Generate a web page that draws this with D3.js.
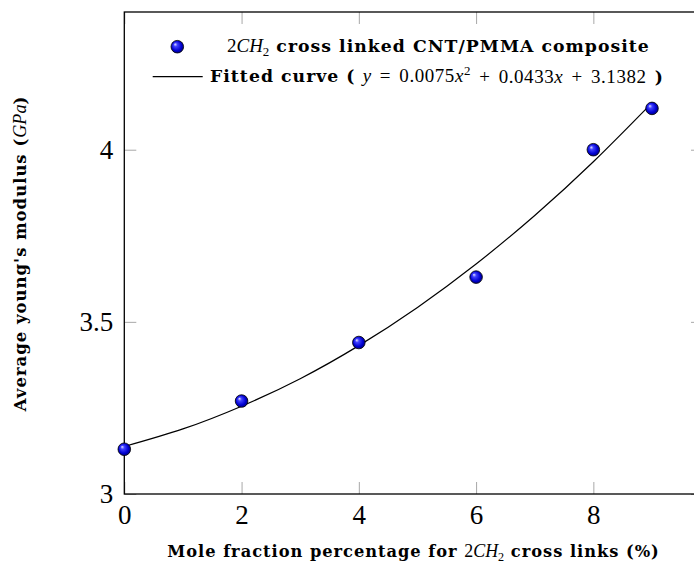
<!DOCTYPE html>
<html lang="en">
<head>
    <meta charset="UTF-8">
    <title>Young's modulus vs cross links</title>
    <script src="https://d3js.org/d3.v7.min.js"></script>
    <style>
        body { margin: 0; background: #fff; }
        svg { display: block; }
    </style>
</head>
<body>
    <svg id="chart" width="694" height="563"></svg>
    <script>
        // data
        const molePct = [0, 2, 4, 6, 8, 9];
        const modulus = [3.13, 3.27, 3.44, 3.63, 4.00, 4.12];
        // fitted curve, read at whole x values
        const fitX = [0, 1, 2, 3, 4, 5, 6, 7, 8, 9];
        const fitY = [3.138, 3.189, 3.255, 3.335, 3.431, 3.542, 3.668, 3.809, 3.965, 4.136];
        const xTicks = [0, 2, 4, 6, 8];
        const yTicks = [3, 3.5, 4];
        const yTickLabels = ["3", "3.5", "4"];
        const xLimits = [0, 9.87];
        const yLimits = [3, 4.4];

        const svg = d3.select("#chart");
        const mLeft = 124.3, mRight = 703, mTop = 12, mBottom = 494;

        const x = d3.scaleLinear().domain(xLimits).range([mLeft, mRight]);
        const y = d3.scaleLinear().domain(yLimits).range([mBottom, mTop]);

        const bold = "'DejaVu Serif', serif";
        const math = "'Liberation Serif', serif";

        // ball shading for the markers
        const grad = svg.append("defs").append("radialGradient")
            .attr("id", "ball")
            .attr("cx", "0.5").attr("cy", "0.5").attr("r", "0.6")
            .attr("fx", "0.32").attr("fy", "0.3");
        grad.append("stop").attr("offset", "0").attr("stop-color", "#e6e6ff");
        grad.append("stop").attr("offset", "0.25").attr("stop-color", "#4040ff");
        grad.append("stop").attr("offset", "0.65").attr("stop-color", "#0000d0");
        grad.append("stop").attr("offset", "1").attr("stop-color", "#00005a");

        // ticks (grey, pointing inward on every side)
        const tickColor = "#a8a8a8";
        svg.append("g").attr("transform", `translate(0,${mBottom})`)
            .call(d3.axisBottom(x).tickValues(xTicks).tickSizeInner(-12).tickSizeOuter(0).tickPadding(11))
            .call(g => g.select(".domain").remove())
            .call(g => g.selectAll("line").attr("stroke", tickColor))
            .call(g => g.selectAll("text").attr("font-family", math).attr("font-size", 27).attr("fill", "#000"));
        svg.append("g").attr("transform", `translate(0,${mTop})`)
            .call(d3.axisTop(x).tickValues(xTicks).tickSizeInner(-12).tickSizeOuter(0).tickFormat(""))
            .call(g => g.select(".domain").remove())
            .call(g => g.selectAll("line").attr("stroke", tickColor));
        svg.append("g").attr("transform", `translate(${mLeft},0)`)
            .call(d3.axisLeft(y).tickValues(yTicks).tickSizeInner(-12).tickSizeOuter(0).tickPadding(11)
                .tickFormat((d, i) => yTickLabels[i]))
            .call(g => g.select(".domain").remove())
            .call(g => g.selectAll("line").attr("stroke", tickColor))
            .call(g => g.selectAll("text").attr("font-family", math).attr("font-size", 27).attr("fill", "#000"));
        svg.append("g").attr("transform", `translate(${mRight},0)`)
            .call(d3.axisRight(y).tickValues(yTicks).tickSizeInner(-12).tickSizeOuter(0).tickFormat(""))
            .call(g => g.select(".domain").remove())
            .call(g => g.selectAll("line").attr("stroke", tickColor));

        // axis frame
        svg.append("rect")
            .attr("x", mLeft).attr("y", mTop)
            .attr("width", mRight - mLeft).attr("height", mBottom - mTop)
            .attr("fill", "none").attr("stroke", "#000").attr("stroke-width", 1.3);

        // fitted curve
        const line = d3.line().x(d => x(d[0])).y(d => y(d[1])).curve(d3.curveNatural);
        svg.append("path")
            .datum(fitX.map((v, i) => [v, fitY[i]]))
            .attr("d", line)
            .attr("fill", "none").attr("stroke", "#000").attr("stroke-width", 1.2);

        // data points
        svg.selectAll("circle.pt")
            .data(molePct.map((v, i) => [v, modulus[i]]))
            .join("circle")
            .attr("class", "pt")
            .attr("cx", d => x(d[0])).attr("cy", d => y(d[1]))
            .attr("r", 6.3)
            .attr("fill", "url(#ball)")
            .attr("stroke", "#000").attr("stroke-width", 0.8);

        // text built from pieces: [string, kind]  kind: b=bold, m=math upright, i=math italic, sub, sup
        function richText(g, parts) {
            const t = g.append("text").attr("fill", "#000");
            let shift = 0;
            parts.forEach(([s, kind]) => {
                const sp = t.append("tspan").text(s).attr("xml:space", "preserve");
                if (kind === "b") sp.attr("font-family", bold).attr("font-weight", "bold")
                    .attr("letter-spacing", "0.06em");
                else sp.attr("font-family", math).attr("class", "math");
                if (kind === "i") sp.attr("font-style", "italic");
                if (kind === "m" || kind === "i") sp.attr("font-size", "1.1em");
                let want = 0;
                if (kind === "sub") { sp.attr("font-size", "0.75em"); want = 0.25; }
                if (kind === "sup") { sp.attr("font-size", "0.75em"); want = -0.45; }
                const base = kind === "sub" || kind === "sup" ? 0.75 : 1;
                const dy = want - shift;
                if (dy !== 0) sp.attr("dy", (dy / base) + "em");
                shift = want;
            });
            return t;
        }
        // scale the font so the text fills a given width
        function fitWidth(t, width) {
            t.attr("font-size", 14);
            const w = t.node().getBBox().width;
            t.attr("font-size", 14 * width / w);
            return 14 * width / w;
        }

        const lx = svg.append("g");
        const xl = richText(lx, [["Mole fraction percentage for ", "b"], ["2", "m"], ["CH", "i"],
            ["2", "sub"], [" cross links (%)", "b"]]);
        fitWidth(xl, 493);
        xl.attr("x", 413.5).attr("y", 557).attr("text-anchor", "middle");

        const ly = svg.append("g").attr("transform", "translate(25.5,253.5) rotate(-90)");
        const yl = richText(ly, [["Average young's modulus (", "b"], ["GPa", "i"], [")", "b"]]);
        fitWidth(yl, 317);
        yl.attr("text-anchor", "middle");

        // legend
        const leg = svg.append("g");
        leg.append("circle").attr("cx", 177.3).attr("cy", 46.7).attr("r", 6.3)
            .attr("fill", "url(#ball)").attr("stroke", "#000").attr("stroke-width", 0.8);
        const l1 = richText(leg, [["2", "m"], ["CH", "i"], ["2", "sub"], [" cross linked CNT/PMMA composite", "b"]]);
        const legSize = fitWidth(l1, 423);
        l1.attr("x", 227).attr("y", 51.7);
        leg.append("line").attr("x1", 152.7).attr("x2", 202.7).attr("y1", 76.7).attr("y2", 76.7)
            .attr("stroke", "#000").attr("stroke-width", 1.2);
        const l2 = richText(leg, [["Fitted curve ( ", "b"], ["y", "i"], [" = 0.0075", "m"], ["x", "i"],
            ["2", "sup"], [" + 0.0433", "m"], ["x", "i"], [" + 3.1382 ", "m"], [")", "b"]]);
        l2.attr("font-size", legSize).attr("x", 210).attr("y", 82.3);
        // math is set looser than the text font, spread the rest of the row over it
        const spare = 456 - l2.node().getBBox().width;
        const mathSpans = l2.selectAll("tspan.math");
        const nChars = d3.sum(mathSpans.nodes(), n => n.textContent.length);
        if (spare > 0) {
            mathSpans.attr("letter-spacing", spare * 0.45 / nChars)
                .attr("word-spacing", spare * 0.5 / 7);
        }
    </script>
</body>
</html>
